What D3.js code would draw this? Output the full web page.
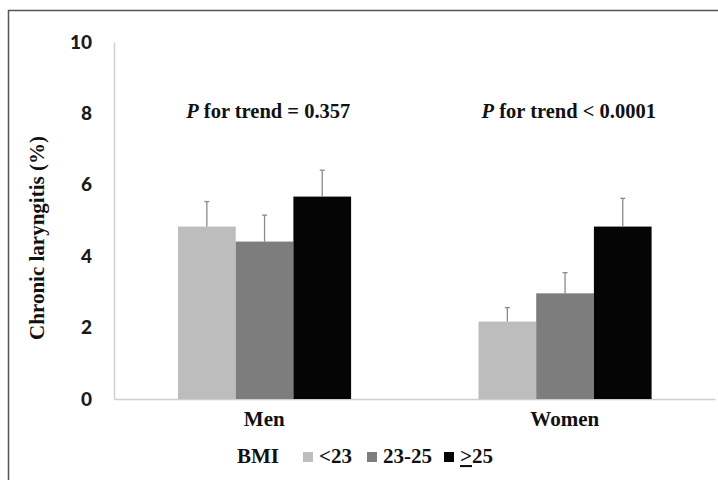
<!DOCTYPE html>
<html>
<head>
<meta charset="utf-8">
<script src="https://cdn.jsdelivr.net/npm/d3@7"></script>
<style>
html,body{margin:0;padding:0;background:#fff;}
svg{display:block;}
</style>
</head>
<body>
<svg id="chart" width="718" height="480"></svg>
<script>
const categories = ["Men", "Women"];
const groups = ["<23", "23-25", "≥25"];
const seriesLow = [4.83, 2.17];
const seriesMid = [4.41, 2.96];
const seriesHigh = [5.67, 4.83];
const errLow = [0.70, 0.39];
const errMid = [0.74, 0.58];
const errHigh = [0.74, 0.79];
const trendLabels = ["= 0.357", "< 0.0001"];
const yTicks = [0, 2, 4, 6, 8, 10];
const colors = ["#bdbdbd", "#7d7d7d", "#050505"];

const values = [seriesLow, seriesMid, seriesHigh];
const errs = [errLow, errMid, errHigh];

const svg = d3.select("#chart");
const serif = "Liberation Serif, Times New Roman, serif";
const sans = "Lato, Open Sans, sans-serif";

// frame
svg.append("path").attr("d", "M8.5,480 L8.5,10.5 L718,10.5")
  .attr("fill", "none").attr("stroke", "#555").attr("stroke-width", 1.5);

const y = d3.scaleLinear().domain([0, 10]).range([399, 42]);
const x0 = d3.scaleBand().domain(categories).range([114, 715]);
const x1 = d3.scaleBand().domain(groups)
  .range([x0.bandwidth() * 0.213, x0.bandwidth() * 0.789]);

// axes
const yAxis = svg.append("g").attr("transform", "translate(114,0)")
  .call(d3.axisLeft(y).tickValues(yTicks).tickSize(0).tickPadding(22));
yAxis.select(".domain").attr("stroke", "#d0d0d0").attr("stroke-width", 1.5);
yAxis.selectAll("text").style("font-family", sans).style("font-weight", "900")
  .style("font-size", "19px").attr("fill", "#1a1a1a");

const xAxis = svg.append("g").attr("transform", "translate(0,399)")
  .call(d3.axisBottom(x0).tickSize(0).tickPadding(12));
xAxis.select(".domain").attr("stroke", "#d0d0d0").attr("stroke-width", 1.5);
xAxis.selectAll("text").style("font-family", serif).style("font-weight", "bold")
  .style("font-size", "21px").attr("fill", "#111");

// bars
const gCat = svg.selectAll("g.cat").data(categories).enter().append("g")
  .attr("class", "cat").attr("transform", d => `translate(${x0(d)},0)`);

gCat.each(function(c, ci) {
  const g = d3.select(this);
  groups.forEach((grp, gi) => {
    const v = values[gi][ci], e = errs[gi][ci];
    const cx = x1(grp) + x1.bandwidth() / 2;
    g.append("rect").attr("x", x1(grp)).attr("width", x1.bandwidth())
      .attr("y", y(v)).attr("height", y(0) - y(v)).attr("fill", colors[gi]);
    g.append("line").attr("x1", cx).attr("x2", cx).attr("y1", y(v)).attr("y2", y(v + e))
      .attr("stroke", "#8a8a8a").attr("stroke-width", 1.3);
    g.append("line").attr("x1", cx - 2.5).attr("x2", cx + 2.5).attr("y1", y(v + e)).attr("y2", y(v + e))
      .attr("stroke", "#8a8a8a").attr("stroke-width", 1.3);
  });
  const t = g.append("text").attr("x", x0.bandwidth() / 2 + 4).attr("y", 118)
    .attr("text-anchor", "middle").style("font-family", serif).style("font-weight", "bold")
    .style("font-size", "20.5px").attr("fill", "#111");
  t.append("tspan").style("font-style", "italic").text("P");
  t.append("tspan").text(" for trend " + trendLabels[ci]);
});

// y title
svg.append("text").attr("transform", "translate(44,238) rotate(-90)")
  .attr("text-anchor", "middle").style("font-family", serif).style("font-weight", "bold")
  .style("font-size", "21px").attr("fill", "#111").text("Chronic laryngitis (%)");

// legend
const legend = svg.append("g").attr("transform", "translate(0,463)");
legend.append("text").attr("x", 237).attr("y", 0).style("font-family", serif)
  .style("font-weight", "bold").style("font-size", "21px").attr("fill", "#111").text("BMI");
const legX = [303, 367, 444];
groups.forEach((grp, gi) => {
  legend.append("rect").attr("x", legX[gi]).attr("y", -11).attr("width", 10).attr("height", 10)
    .attr("fill", colors[gi]);
  const lt = legend.append("text").attr("x", legX[gi] + 16).attr("y", 0).style("font-family", serif)
    .style("font-weight", "bold").style("font-size", "21px").attr("fill", "#111");
  if (grp === "≥25") {
    lt.append("tspan").style("text-decoration", "underline").text(">");
    lt.append("tspan").text("25");
  } else {
    lt.text(grp);
  }
});
</script>
</body>
</html>
